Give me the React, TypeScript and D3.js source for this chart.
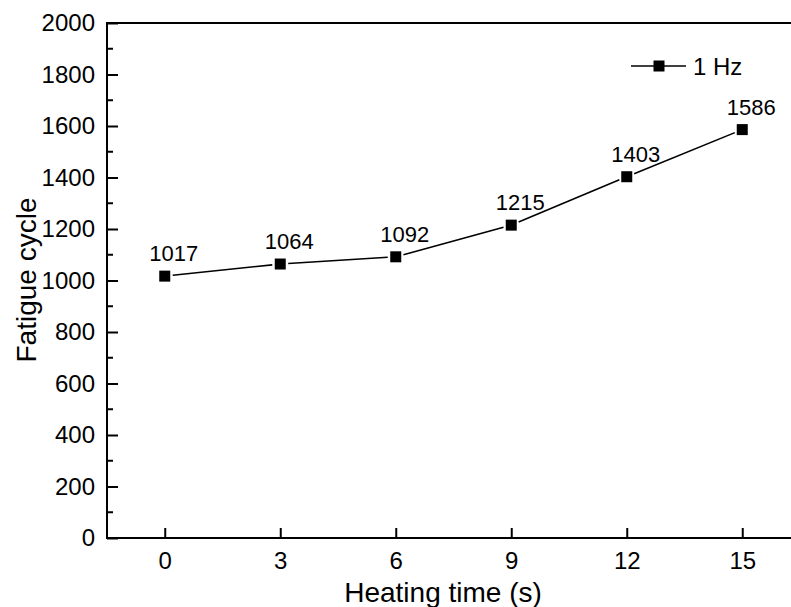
import React from "react";
import * as d3 from "d3";
import { useEffect, useRef } from "react";

const heatingTimes = [0, 3, 6, 9, 12, 15];
const fatigueCycles = [1017, 1064, 1092, 1215, 1403, 1586];
const yTicks = [0, 200, 400, 600, 800, 1000, 1200, 1400, 1600, 1800, 2000];
const yMinorTicks = [100, 300, 500, 700, 900, 1100, 1300, 1500, 1700, 1900];
const seriesName = "1 Hz";

function App() {
  const W = 791;
  const H = 607;
  const margin = { top: 23, right: -9, bottom: 69, left: 107 };
  const svgRef = useRef<SVGSVGElement>(null);

  useEffect(() => {
    const svg = d3.select(svgRef.current);
    svg.selectAll("*").remove();
    const font = "'Liberation Sans', Arial, sans-serif";

    const x = d3
      .scaleLinear()
      .domain([-1.5, 16.5])
      .range([margin.left, W - margin.right]);
    const y = d3
      .scaleLinear()
      .domain([0, 2000])
      .range([H - margin.bottom, margin.top]);

    // frame
    svg
      .append("rect")
      .attr("x", x(-1.5))
      .attr("y", y(2000))
      .attr("width", x(16.5) - x(-1.5))
      .attr("height", y(0) - y(2000))
      .attr("fill", "none")
      .attr("stroke", "#000")
      .attr("stroke-width", 2);

    // y axis
    const yAxis = d3
      .axisLeft(y)
      .tickValues(yTicks)
      .tickSize(-11)
      .tickPadding(12)
      .tickFormat(d3.format("d"));
    const gy = svg
      .append("g")
      .attr("transform", `translate(${x(-1.5)},0)`)
      .call(yAxis);
    gy.select(".domain").remove();
    gy.selectAll("line").attr("stroke-width", 2);
    gy.selectAll("text")
      .attr("font-family", font)
      .attr("font-size", 24)
      .attr("fill", "#000");

    svg
      .append("g")
      .selectAll("line")
      .data(yMinorTicks)
      .enter()
      .append("line")
      .attr("x1", x(-1.5))
      .attr("x2", x(-1.5) + 6)
      .attr("y1", (d) => y(d))
      .attr("y2", (d) => y(d))
      .attr("stroke", "#000")
      .attr("stroke-width", 2);

    // x axis
    const xAxis = d3
      .axisBottom(x)
      .tickValues(heatingTimes)
      .tickSize(-10)
      .tickPadding(14)
      .tickFormat(d3.format("d"));
    const gx = svg
      .append("g")
      .attr("transform", `translate(0,${y(0)})`)
      .call(xAxis);
    gx.select(".domain").remove();
    gx.selectAll("line").attr("stroke-width", 2);
    gx.selectAll("text")
      .attr("font-family", font)
      .attr("font-size", 24)
      .attr("fill", "#000");

    // axis titles
    svg
      .append("text")
      .attr("x", 443)
      .attr("y", 602)
      .attr("text-anchor", "middle")
      .attr("font-family", font)
      .attr("font-size", 28)
      .text("Heating time (s)");
    svg
      .append("text")
      .attr("transform", `translate(36,280) rotate(-90)`)
      .attr("text-anchor", "middle")
      .attr("font-family", font)
      .attr("font-size", 28)
      .text("Fatigue cycle");

    // line segments with gaps at the markers
    const pts = heatingTimes.map((t, i) => [x(t), y(fatigueCycles[i])]);
    const gap = 8;
    const segs = d3.pairs(pts).map(([a, b]) => {
      const dx = b[0] - a[0];
      const dy = b[1] - a[1];
      const len = Math.hypot(dx, dy);
      const ux = dx / len;
      const uy = dy / len;
      return [a[0] + ux * gap, a[1] + uy * gap, b[0] - ux * gap, b[1] - uy * gap];
    });
    svg
      .append("g")
      .selectAll("line")
      .data(segs)
      .enter()
      .append("line")
      .attr("x1", (d) => d[0])
      .attr("y1", (d) => d[1])
      .attr("x2", (d) => d[2])
      .attr("y2", (d) => d[3])
      .attr("stroke", "#000")
      .attr("stroke-width", 1.6);

    // markers
    const s = 11;
    svg
      .append("g")
      .selectAll("rect")
      .data(heatingTimes)
      .enter()
      .append("rect")
      .attr("x", (d) => x(d) - s / 2)
      .attr("y", (d, i) => y(fatigueCycles[i]) - s / 2)
      .attr("width", s)
      .attr("height", s)
      .attr("fill", "#000");

    // value labels
    svg
      .append("g")
      .selectAll("text")
      .data(heatingTimes)
      .enter()
      .append("text")
      .attr("x", (d) => x(d) + 9)
      .attr("y", (d, i) => y(fatigueCycles[i]) - 15)
      .attr("text-anchor", "middle")
      .attr("font-family", font)
      .attr("font-size", 22)
      .text((d, i) => fatigueCycles[i]);

    // legend
    const lg = svg.append("g").attr("transform", "translate(631,66)");
    lg.append("line")
      .attr("x1", 0)
      .attr("x2", 55)
      .attr("stroke", "#000")
      .attr("stroke-width", 1.6);
    lg.append("rect")
      .attr("x", 28 - s / 2)
      .attr("y", -s / 2)
      .attr("width", s)
      .attr("height", s)
      .attr("fill", "#000");
    lg.append("text")
      .attr("x", 62)
      .attr("y", 9)
      .attr("font-family", font)
      .attr("font-size", 24)
      .text(seriesName);
  }, []);

  return (
    <svg
      ref={svgRef}
      width={W}
      height={H}
      style={{ position: "absolute", left: 0, top: 0, background: "#fff" }}
    ></svg>
  );
}

export default App;
